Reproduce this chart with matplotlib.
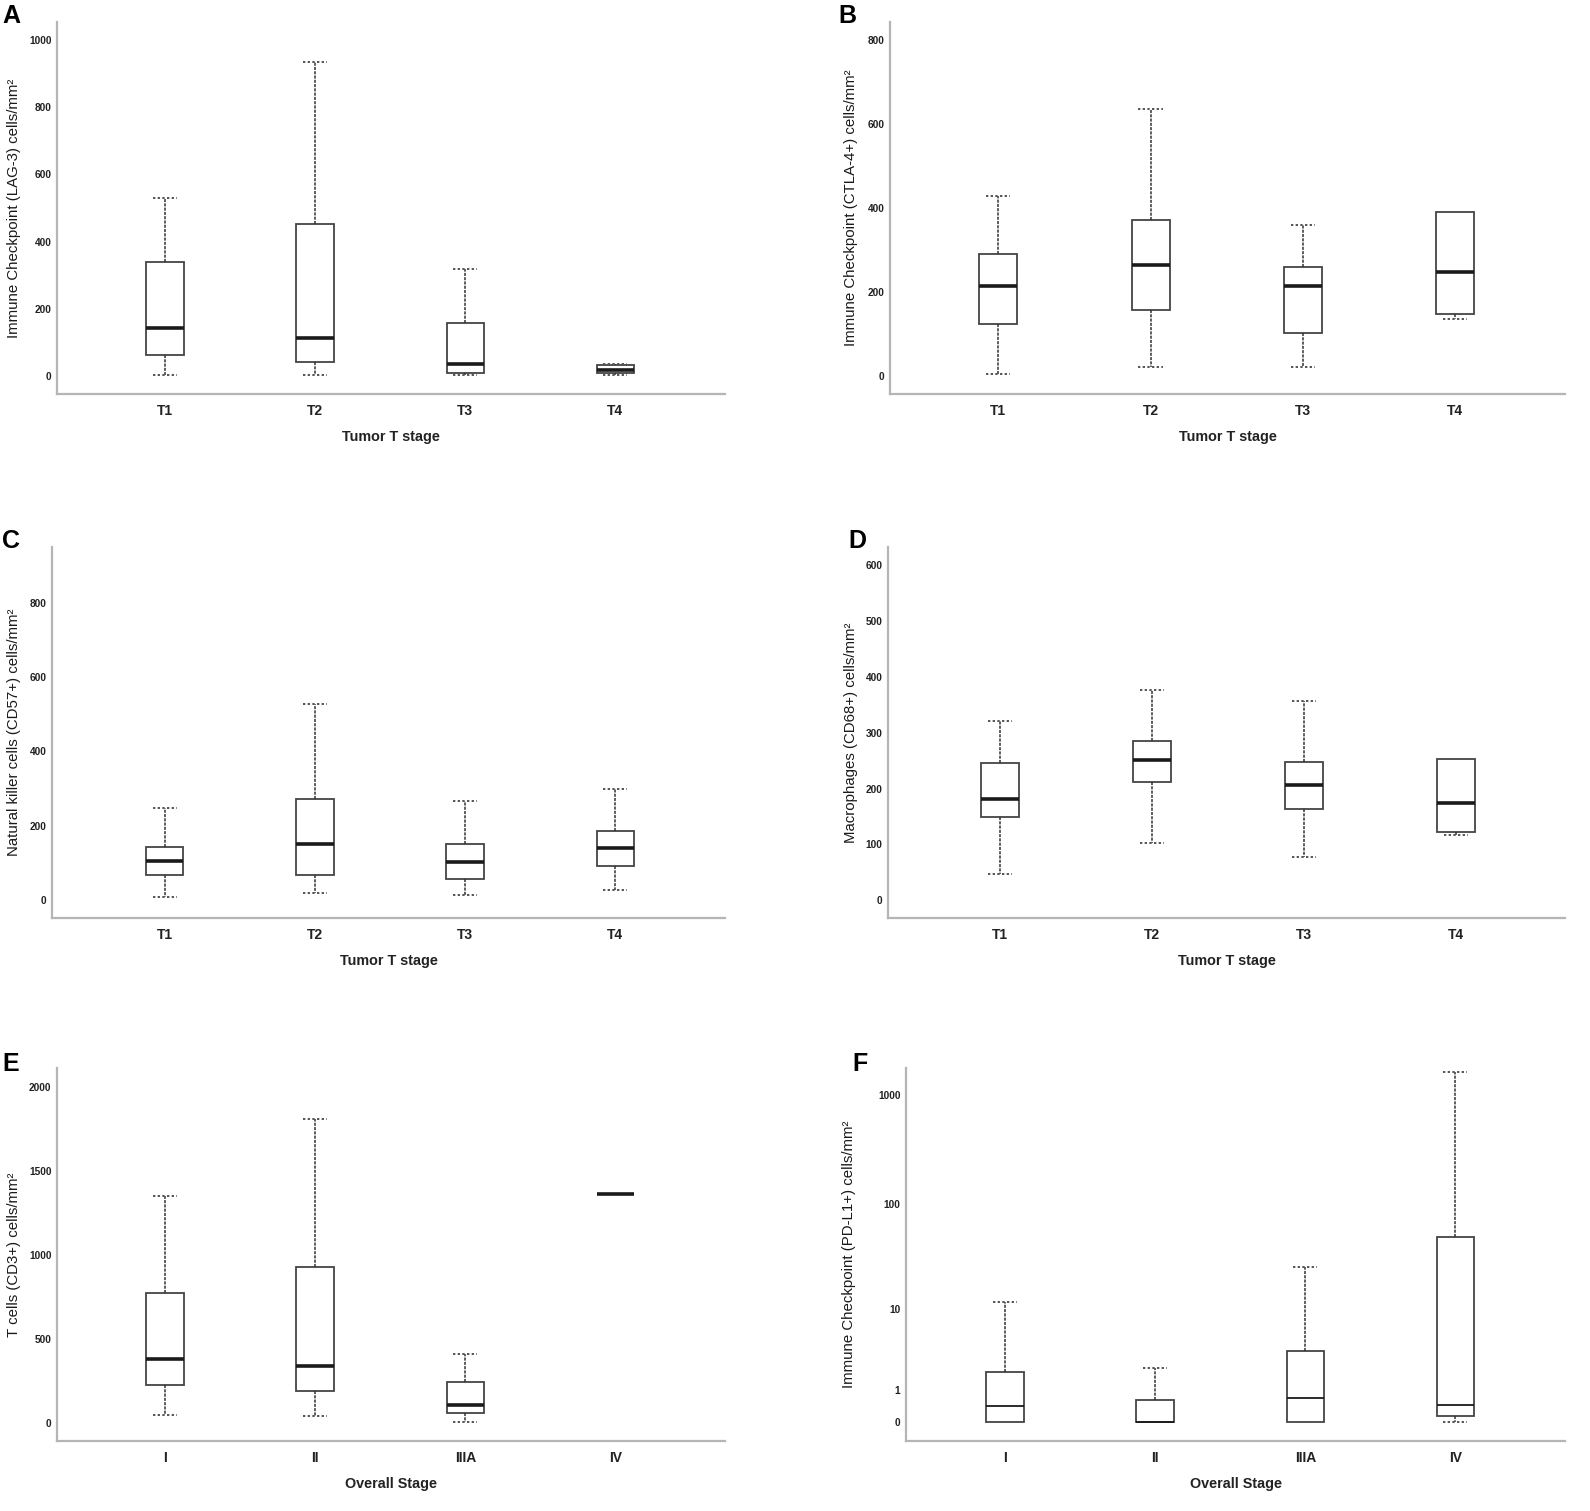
import numpy as np
import matplotlib.pyplot as plt

plt.rcParams['font.family'] = ['Liberation Sans', 'DejaVu Sans']

# ---- data ----
t_stages = ['T1', 'T2', 'T3', 'T4']
overall_stages = ['I', 'II', 'IIIA', 'IV']

# A: LAG-3
lag3_low = [3, 2, 2, 3]
lag3_q1 = [63, 41, 8, 10]
lag3_med = [143, 114, 34, 16]
lag3_q3 = [340, 452, 156, 33]
lag3_high = [531, 935, 319, 35]

# B: CTLA-4
ctla4_low = [6, 22, 23, 136]
ctla4_q1 = [125, 158, 103, 148]
ctla4_med = [214, 265, 214, 248]
ctla4_q3 = [292, 373, 259, 391]
ctla4_high = [429, 635, 361, 391]

# C: CD57
cd57_low = [9, 19, 15, 26]
cd57_q1 = [69, 67, 56, 93]
cd57_med = [105, 152, 102, 139]
cd57_q3 = [143, 273, 152, 187]
cd57_high = [248, 527, 266, 300]

# D: CD68
cd68_low = [46, 103, 77, 117]
cd68_q1 = [149, 211, 163, 122]
cd68_med = [181, 252, 207, 174]
cd68_q3 = [246, 286, 248, 253]
cd68_high = [321, 377, 357, 253]

# E: CD3
cd3_low = [49, 43, 4, 1365]
cd3_q1 = [227, 188, 62, 1365]
cd3_med = [383, 340, 105, 1365]
cd3_q3 = [771, 926, 244, 1365]
cd3_high = [1352, 1809, 408, 1365]

# F: PD-L1
pdl1_low = [0, 0, 0, 0]
pdl1_q1 = [0, 0, 0, 0.15]
pdl1_med = [0.4, 0, 0.66, 0.43]
pdl1_q3 = [1.87, 0.6, 3.5, 49]
pdl1_high = [11.7, 2.14, 25.7, 1636]


def make_stats(low, q1, med, q3, high):
    return [dict(whislo=a, q1=b, med=c, q3=d, whishi=e, fliers=[])
            for a, b, c, d, e in zip(low, q1, med, q3, high)]


def draw_panel(ax, stats, cats, xlabel, ylabel, yticks, ylim, xlim, thin_median=False):
    med_lw = 1.3 if thin_median else 2.6
    ax.bxp(stats, positions=range(1, len(stats) + 1), widths=0.25,
           capwidths=0.16, showfliers=False, patch_artist=True,
           boxprops=dict(facecolor='white', edgecolor='#444444', linewidth=1.3),
           whiskerprops=dict(color='#333333', linewidth=1.1, linestyle=(0, (2, 0.8))),
           capprops=dict(color='#555555', linewidth=1.4, linestyle=(0, (1.2, 1.2))),
           medianprops=dict(color='#1a1a1a', linewidth=med_lw))
    ax.set_xlim(*xlim)
    ax.set_ylim(*ylim)
    ax.set_xticks(range(1, len(cats) + 1))
    ax.set_xticklabels(cats, fontsize=10, fontweight='bold', color='#222222')
    ax.set_yticks(yticks)
    ax.set_yticklabels([str(v) for v in yticks], fontsize=7.3,
                       fontweight='bold', color='#222222')
    ax.tick_params(axis='both', length=0)
    ax.tick_params(axis='y', pad=4)
    ax.tick_params(axis='x', pad=7)
    for s in ['top', 'right']:
        ax.spines[s].set_visible(False)
    for s in ['left', 'bottom']:
        ax.spines[s].set_color('#b5b5b5')
        ax.spines[s].set_linewidth(1.6)
    ax.set_xlabel(xlabel, fontsize=10.4, fontweight='bold', color='#222222', labelpad=9)
    ax.set_ylabel(ylabel, fontsize=10.8, color='#1a1a1a')


W, H = 1590, 1511
fig = plt.figure(figsize=(W / 100, H / 100), dpi=100)


def add_axes(left, top, right, bottom):
    return fig.add_axes([left / W, 1 - bottom / H, (right - left) / W, (bottom - top) / H])


axA = add_axes(57, 22, 725, 394)
axB = add_axes(890, 22, 1565, 394)
axC = add_axes(52, 547, 725, 918)
axD = add_axes(888, 547, 1565, 918)
axE = add_axes(57, 1068, 725, 1441)
axF = add_axes(906, 1068, 1565, 1441)

draw_panel(axA, make_stats(lag3_low, lag3_q1, lag3_med, lag3_q3, lag3_high),
           t_stages, 'Tumor T stage', 'Immune Checkpoint (LAG-3) cells/mm²',
           [0, 200, 400, 600, 800, 1000], (-54, 1054), (0.28, 4.73))
draw_panel(axB, make_stats(ctla4_low, ctla4_q1, ctla4_med, ctla4_q3, ctla4_high),
           t_stages, 'Tumor T stage', 'Immune Checkpoint (CTLA-4+) cells/mm²',
           [0, 200, 400, 600, 800], (-42, 843), (0.29, 4.72))
draw_panel(axC, make_stats(cd57_low, cd57_q1, cd57_med, cd57_q3, cd57_high),
           t_stages, 'Tumor T stage', 'Natural killer cells (CD57+) cells/mm²',
           [0, 200, 400, 600, 800], (-48, 950), (0.25, 4.73))
draw_panel(axD, make_stats(cd68_low, cd68_q1, cd68_med, cd68_q3, cd68_high),
           t_stages, 'Tumor T stage', 'Macrophages (CD68+) cells/mm²',
           [0, 100, 200, 300, 400, 500, 600], (-32, 633), (0.26, 4.72))
draw_panel(axE, make_stats(cd3_low, cd3_q1, cd3_med, cd3_q3, cd3_high),
           overall_stages, 'Overall Stage', 'T cells (CD3+) cells/mm²',
           [0, 500, 1000, 1500, 2000], (-107, 2113), (0.28, 4.73))

# F uses a log(x+1) axis
axF.set_yscale('function', functions=(lambda x: np.log10(np.maximum(x + 1, 1e-9)),
                                      lambda y: 10 ** y - 1))
draw_panel(axF, make_stats(pdl1_low, pdl1_q1, pdl1_med, pdl1_q3, pdl1_high),
           overall_stages, 'Overall Stage', 'Immune Checkpoint (PD-L1+) cells/mm²',
           [0, 1, 10, 100, 1000], (-0.326, 1777), (0.34, 4.73), thin_median=True)

# y label placement (right edge of rotated label, px left of spine)
for ax, off in [(axA, 36), (axB, 32), (axC, 31), (axD, 30), (axE, 36), (axF, 50)]:
    wpx = ax.get_position().width * W
    ax.yaxis.set_label_coords(-off / wpx, 0.5)

for letter, x, y in [('A', 2, 4), ('B', 838, 4), ('C', 2, 529), ('D', 848, 529),
                     ('E', 2, 1052), ('F', 852, 1052)]:
    fig.text(x / W, 1 - y / H, letter, fontsize=18, fontweight='bold',
             ha='left', va='top', color='black')

fig.savefig('out.png', dpi=100, facecolor='white')
